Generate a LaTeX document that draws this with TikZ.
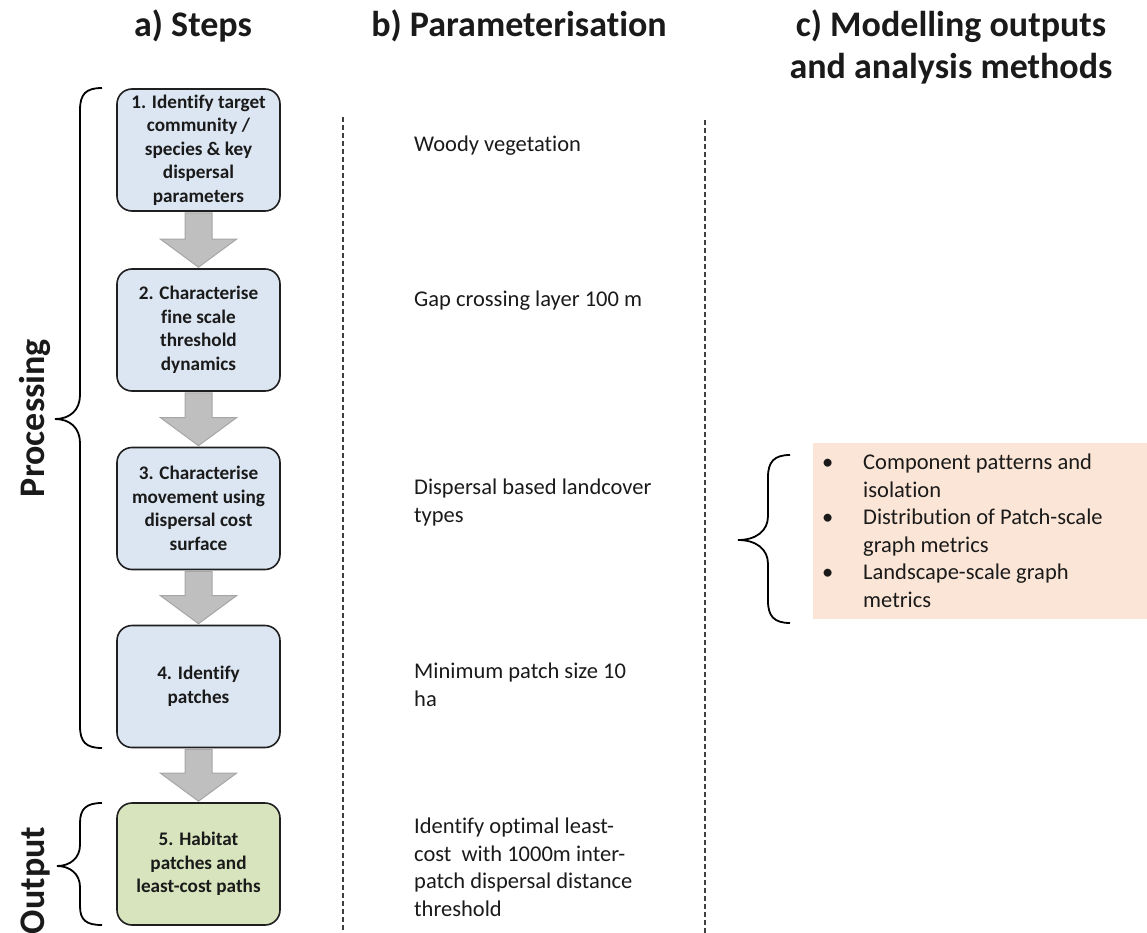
\documentclass[tikz,border=0pt]{standalone}
\usepackage{fontspec}
\setmainfont{Carlito}[Ligatures=NoCommon]
\usetikzlibrary{calc}
\definecolor{boxblue}{HTML}{DCE6F2}
\definecolor{boxgreen}{HTML}{D7E4BD}
\definecolor{peach}{HTML}{FBE5D6}
\definecolor{arrgray}{HTML}{BFBFBF}
\definecolor{arredge}{HTML}{A6A6A6}
\definecolor{txt}{HTML}{1A1A1A}
\newcommand{\blockarr}[2]{%
  \draw[fill=arrgray, draw=arredge, line width=1pt, line join=miter]
    ($(#1.south)+(-13.5,1)$) -- ($(#2.north)+(-13.5,-29)$) -- ($(#2.north)+(-38,-29)$)
    -- ($(#2.north)+(0,-1)$) -- ($(#2.north)+(38,-29)$) -- ($(#2.north)+(13.5,-29)$)
    -- ($(#1.south)+(13.5,1)$) -- cycle;}
\begin{document}
\begin{tikzpicture}[x=1pt,y=-1pt,
  stepbox/.style={draw=black!88, line width=1.6pt, rounded corners=15pt,
    minimum width=163pt, minimum height=122pt, align=center, inner sep=0pt,
    font=\fontsize{19.2}{23.5}\selectfont\bfseries, text=txt},
  headtxt/.style={font=\fontsize{36}{42}\selectfont\bfseries, align=center, text=txt, inner sep=0pt},
  partxt/.style={font=\fontsize{22.5}{27.5}\selectfont, align=left, anchor=base west, inner sep=0pt, text=txt},
  curly/.style={line width=1.8pt, black},
  divider/.style={dash pattern=on 5pt off 3pt, line width=1.3pt, black!75},
]
\useasboundingbox (0,0) rectangle (1147,933);

% titles
\node[headtxt, anchor=base] (ta) at (193,37) {a) Steps};
\node[headtxt, anchor=base] (tb) at (519,37) {b) Parameterisation};
\node[headtxt, anchor=base] (tc) at (951,79) {c) Modelling outputs\\and analysis methods};

% step boxes
\node[stepbox, fill=boxblue] (s1) at (198.5,150) {1. Identify target\\community /\\species \& key\\dispersal\\parameters};
\node[stepbox, fill=boxblue] (s2) at (198.5,330) {2. Characterise\\fine scale\\threshold\\dynamics};
\node[stepbox, fill=boxblue] (s3) at (198.5,508.5) {3. Characterise\\movement using\\dispersal cost\\surface};
\node[stepbox, fill=boxblue] (s4) at (198.5,686.5) {4. Identify\\patches};
\node[stepbox, fill=boxgreen] (s5) at (198.5,864) {5. Habitat\\patches and\\least-cost paths};

\blockarr{s1}{s2}
\blockarr{s2}{s3}
\blockarr{s3}{s4}
\blockarr{s4}{s5}

% braces
\draw[curly] (102,88) .. controls (86,88) and (80,94) .. (80,110) -- (80,395)
  .. controls (80,410) and (70,419) .. (55,419)
  .. controls (70,419) and (80,428) .. (80,443) -- (80,726)
  .. controls (80,742) and (86,748) .. (102,748);
\draw[curly] (102,803) .. controls (86,803) and (80,809) .. (80,823) -- (80,845)
  .. controls (80,858) and (70,866) .. (57,866)
  .. controls (70,866) and (80,874) .. (80,887) -- (80,906)
  .. controls (80,920) and (86,925) .. (102,925);

\node[headtxt, rotate=90, anchor=base] (lp) at (44,418) {Processing};
\node[headtxt, rotate=90, anchor=base] (lo) at (44,880.5) {Output};

% dividers
\coordinate (d1t) at (343,117); \coordinate (d1b) at (343,933);
\coordinate (d2t) at (705,120); \coordinate (d2b) at (705,933);
\draw[divider] (d1t) -- (d1b);
\draw[divider] (d2t) -- (d2b);

% parameterisation
\node[partxt] (p1) at (414,152) {Woody vegetation};
\node[partxt] (p2) at (414,306) {Gap crossing layer 100 m};
\node[partxt] (p3) at (414,522) {Dispersal based landcover\\types};
\node[partxt] (p4) at (414,706) {Minimum patch size 10\\ha};
\node[partxt] (p5) at (414,916) {Identify optimal least-\\cost\ \ with 1000m inter-\\patch dispersal distance\\threshold};

% outputs
\node[fill=peach, draw=none, anchor=north west, minimum width=334pt, minimum height=176pt, inner sep=0pt] (obox) at (813,443) {};
\node[partxt] (olist) at ($(obox.north west)+(9,164)$)
  {\makebox[41pt][l]{\textbullet}Component patterns and\\
   \hspace*{41pt}isolation\\
   \makebox[41pt][l]{\textbullet}Distribution of Patch-scale\\
   \hspace*{41pt}graph metrics\\
   \makebox[41pt][l]{\textbullet}Landscape-scale graph\\
   \hspace*{41pt}metrics};
\draw[curly] (790,455) .. controls (774,455) and (768,462) .. (768,477) -- (768,516)
  .. controls (768,531) and (756,540) .. (738,540)
  .. controls (756,540) and (768,549) .. (768,564) -- (768,601)
  .. controls (768,616) and (774,623) .. (790,623);
\end{tikzpicture}
\end{document}
